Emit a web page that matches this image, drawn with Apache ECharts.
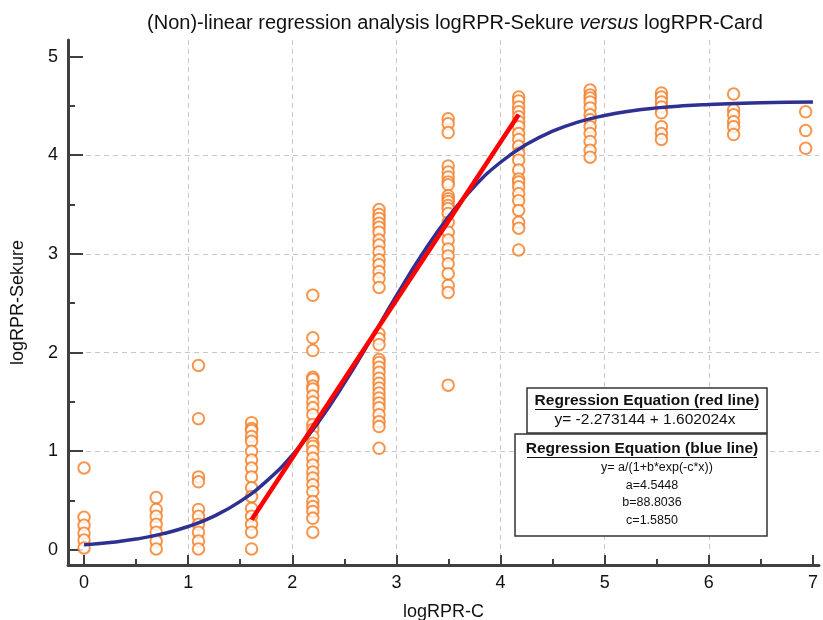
<!DOCTYPE html>
<html>
<head>
<meta charset="utf-8">
<script src="https://cdn.jsdelivr.net/npm/echarts@6/dist/echarts.min.js"></script>
<style>
html,body{margin:0;padding:0;background:#fff;}
#chart{width:823px;height:620px;}
</style>
</head>
<body>
<div id="chart"></div>
<script>
// x levels (logRPR-C) and observed logRPR-Sekure values at each level
const xLevels = [0, 0.693, 1.099, 1.609, 2.197, 2.833, 3.497, 4.174, 4.86, 5.545, 6.238, 6.93];
const yAtX0  = [0.83, 0.33, 0.25, 0.17, 0.10, 0.02];
const yAtX1  = [0.53, 0.41, 0.34, 0.26, 0.18, 0.09, 0.01];
const yAtX2  = [1.87, 1.33, 0.74, 0.69, 0.41, 0.34, 0.26, 0.18, 0.09, 0.01];
const yAtX3  = [1.29, 1.23, 1.21, 1.15, 1.10, 1.00, 0.91, 0.83, 0.74, 0.63, 0.54, 0.42, 0.34, 0.26, 0.18, 0.01];
const yAtX4  = [2.58, 2.15, 2.02, 1.75, 1.73, 1.66, 1.63, 1.56, 1.50, 1.44, 1.37, 1.27, 1.22, 1.15, 1.08, 1.05, 1.00, 0.93, 0.86, 0.79, 0.73, 0.66, 0.59, 0.49, 0.44, 0.39, 0.32, 0.18];
const yAtX5  = [3.45, 3.40, 3.36, 3.31, 3.27, 3.22, 3.14, 3.09, 3.02, 2.94, 2.89, 2.82, 2.75, 2.66, 2.19, 2.14, 2.08, 1.93, 1.90, 1.85, 1.80, 1.74, 1.69, 1.64, 1.59, 1.54, 1.49, 1.44, 1.37, 1.30, 1.25, 1.03];
const yAtX6  = [4.37, 4.32, 4.23, 3.89, 3.83, 3.78, 3.73, 3.70, 3.59, 3.56, 3.53, 3.49, 3.46, 3.41, 3.32, 3.22, 3.14, 3.05, 2.98, 2.90, 2.80, 2.68, 2.61, 1.67];
const yAtX7  = [4.59, 4.55, 4.49, 4.44, 4.39, 4.34, 4.29, 4.22, 4.16, 4.09, 4.02, 3.95, 3.85, 3.76, 3.73, 3.68, 3.61, 3.54, 3.44, 3.32, 3.26, 3.04];
const yAtX8  = [4.66, 4.61, 4.58, 4.54, 4.48, 4.41, 4.36, 4.29, 4.22, 4.14, 4.05, 3.98];
const yAtX9  = [4.63, 4.59, 4.54, 4.49, 4.43, 4.29, 4.22, 4.16];
const yAtX10 = [4.62, 4.46, 4.41, 4.34, 4.29, 4.21];
const yAtX11 = [4.44, 4.25, 4.07];
const yGroups = [yAtX0, yAtX1, yAtX2, yAtX3, yAtX4, yAtX5, yAtX6, yAtX7, yAtX8, yAtX9, yAtX10, yAtX11];

// axis tick values
const xTicks = [0, 1, 2, 3, 4, 5, 6, 7];
const yTicks = [0, 1, 2, 3, 4, 5];

// blue logistic curve (sampled values as drawn)
const blueX = [0, 0.25, 0.5, 0.75, 1, 1.25, 1.5, 1.75, 2, 2.25, 2.5, 2.75, 3, 3.25, 3.5, 3.75, 4, 4.25, 4.5, 4.75, 5, 5.25, 5.5, 5.75, 6, 6.25, 6.5, 6.75, 7];
const blueY = [0.051, 0.075, 0.110, 0.162, 0.237, 0.343, 0.492, 0.695, 0.961, 1.295, 1.690, 2.127, 2.576, 3.001, 3.376, 3.686, 3.929, 4.111, 4.244, 4.338, 4.403, 4.449, 4.480, 4.501, 4.515, 4.525, 4.531, 4.536, 4.539];

// red linear regression segment
const redX = [1.609, 4.174];
const redY = [0.305, 4.414];

const scatterData = [];
xLevels.forEach((x, i) => yGroups[i].forEach(y => scatterData.push([x, y])));
const blueData = blueX.map((x, i) => [x, blueY[i]]);
const redData = redX.map((x, i) => [x, redY[i]]);

const FONT = 'Liberation Sans, Arial, sans-serif';
const chart = echarts.init(document.getElementById('chart'), null, {renderer: 'canvas'});

const axisCommon = {
  splitNumber: 7,
  axisLine: {show: true, onZero: false, lineStyle: {color: '#404040', width: 3}},
  splitLine: {show: true, showMinLine: false, showMaxLine: false, lineStyle: {color: '#c8c8c8', type: [5, 4], width: 1}},
  axisLabel: {color: '#111', fontSize: 18, fontFamily: FONT, showMinLabel: false, showMaxLabel: false,
    formatter: v => (Math.abs(v - Math.round(v)) < 1e-9 ? String(Math.round(v)) : '')}
};

const eqText = (x, y, text, size, bold) => ({
  type: 'text', x: x, y: y, z: 11,
  style: {text: text, fontSize: size, fontWeight: bold ? 'bold' : 'normal', fontFamily: FONT, fill: '#111', align: 'center', verticalAlign: 'middle'}
});

chart.setOption({
  animation: false,
  backgroundColor: '#fff',
  title: {
    text: '{n|(Non)-linear regression analysis logRPR-Sekure }{i|versus}{n| logRPR-Card}',
    left: 450, top: 8, textAlign: 'center',
    textStyle: {
      fontWeight: 'normal',
      rich: {
        n: {fontSize: 20, fontFamily: FONT, color: '#111', fontWeight: 'normal'},
        i: {fontSize: 20, fontFamily: FONT, color: '#111', fontWeight: 'normal', fontStyle: 'italic'}
      }
    }
  },
  grid: {left: 68, top: 40, width: 751, height: 525, containLabel: false, outerBoundsMode: 'none'},
  xAxis: Object.assign({}, axisCommon, {
    type: 'value', min: -0.154, max: 7.058,
    name: 'logRPR-C', nameLocation: 'middle', nameGap: 38, nameMoveOverlap: false,
    nameTextStyle: {fontSize: 18, fontFamily: FONT, color: '#111'},
    axisTick: {show: true, inside: true, length: 10, customValues: xTicks, lineStyle: {color: '#404040', width: 2}},
    minorTick: {show: true, splitNumber: 2, length: 6, lineStyle: {color: '#404040', width: 2}},
    axisLabel: Object.assign({}, axisCommon.axisLabel, {margin: 9})
  }),
  yAxis: Object.assign({}, axisCommon, {
    type: 'value', min: -0.153, max: 5.168, splitNumber: 5,
    name: 'logRPR-Sekure', nameLocation: 'middle', nameGap: 41, nameRotate: 90, nameMoveOverlap: false,
    nameTextStyle: {fontSize: 18, fontFamily: FONT, color: '#111'},
    axisTick: {show: true, inside: true, length: 15, customValues: yTicks, lineStyle: {color: '#404040', width: 2}},
    minorTick: {show: true, splitNumber: 2, length: 7, lineStyle: {color: '#404040', width: 2}},
    axisLabel: Object.assign({}, axisCommon.axisLabel, {margin: 10})
  }),
  series: [
    {
      type: 'scatter', data: scatterData, symbol: 'emptyCircle', symbolSize: 11.5,
      itemStyle: {color: '#f47b20', borderColor: '#f47b20', borderWidth: 1.4}, z: 2
    },
    {
      type: 'line', data: blueData, smooth: true, showSymbol: false,
      lineStyle: {color: '#2e3192', width: 3.5}, z: 3
    },
    {
      type: 'line', data: redData, showSymbol: false,
      lineStyle: {color: '#ff0000', width: 4.5}, z: 4
    }
  ],
  graphic: [
    {type: 'rect', shape: {x: 527, y: 388, width: 240, height: 45}, style: {fill: '#fff', stroke: '#333', lineWidth: 1.5}, z: 10},
    eqText(647, 401, 'Regression Equation (red line)', 15.5, true),
    {type: 'line', shape: {x1: 535, y1: 409.5, x2: 758, y2: 409.5}, style: {stroke: '#111', lineWidth: 1}, z: 11},
    eqText(645, 420, 'y= -2.273144 + 1.602024x', 15.5, false),
    {type: 'rect', shape: {x: 515, y: 434, width: 252, height: 102}, style: {fill: '#fff', stroke: '#333', lineWidth: 1.5}, z: 10},
    eqText(642, 449, 'Regression Equation (blue line)', 15.5, true),
    {type: 'line', shape: {x1: 527, y1: 457.5, x2: 757, y2: 457.5}, style: {stroke: '#111', lineWidth: 1}, z: 11},
    eqText(657, 468, 'y= a/(1+b*exp(-c*x))', 12.5, false),
    eqText(652, 486, 'a=4.5448', 12.5, false),
    eqText(652, 503, 'b=88.8036', 12.5, false),
    eqText(652, 521, 'c=1.5850', 12.5, false)
  ]
});
</script>
</body>
</html>
